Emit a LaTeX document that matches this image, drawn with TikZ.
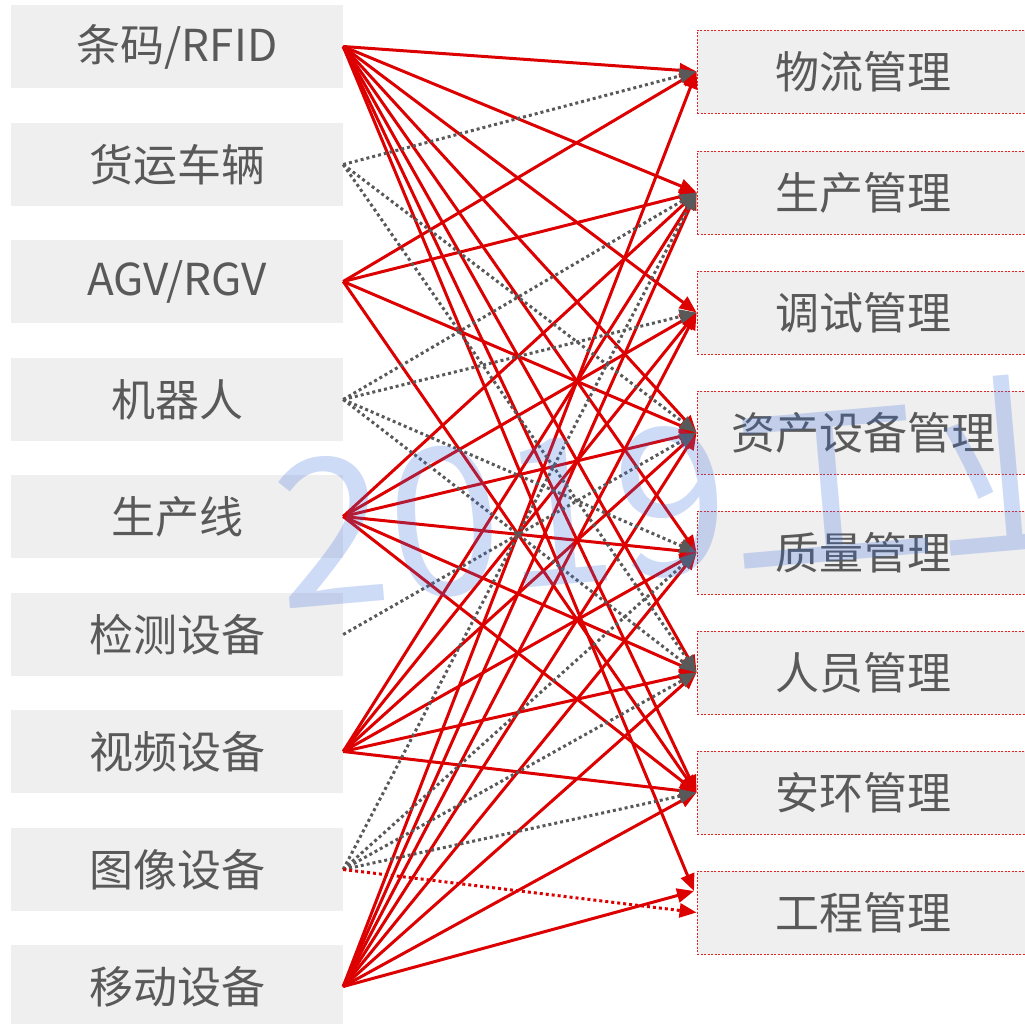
\documentclass[tikz,border=0pt]{standalone}
\usepackage{fontspec}
\setmainfont{Noto Sans CJK SC}
\usetikzlibrary{arrows.meta}
\definecolor{lred}{RGB}{221,0,0}
\definecolor{dgray}{RGB}{89,89,89}
\definecolor{boxg}{RGB}{239,239,239}
\definecolor{wm}{RGB}{60,110,220}
\begin{document}
\begin{tikzpicture}[x=1pt,y=-1pt,
  lbox/.style={fill=boxg,minimum width=332pt,minimum height=83pt,inner sep=0pt,text=dgray,font=\fontsize{44}{50}\selectfont},
  rbox/.style={lbox,draw=lred!85,line width=0.9pt,dash pattern=on 2pt off 1.5pt},
  tip/.style={-{Triangle[length=17pt,width=14pt]}},
  redln/.style={draw=lred,line width=3pt,tip},
  dotln/.style={draw=dgray,line width=3pt,dash pattern=on 3pt off 3pt,tip},
  reddot/.style={draw=lred,line width=3pt,dash pattern=on 3pt off 3pt,tip}]
\useasboundingbox (0,0) rectangle (1025,1024);
\clip (0,0) rectangle (1025,1024);
% left boxes
\node[lbox] (l1) at (177,46.5) {条码/RFID};
\node[lbox] (l2) at (177,164.5) {货运车辆};
\node[lbox] (l3) at (177,281.5) {AGV/RGV};
\node[lbox] (l4) at (177,399.5) {机器人};
\node[lbox] (l5) at (177,516.5) {生产线};
\node[lbox] (l6) at (177,634.5) {检测设备};
\node[lbox] (l7) at (177,751.5) {视频设备};
\node[lbox] (l8) at (177,869.5) {图像设备};
\node[lbox] (l9) at (177,986.5) {移动设备};
% right boxes
\node[rbox] (r1) at (863,71.5) {物流管理};
\node[rbox] (r2) at (863,192.5) {生产管理};
\node[rbox] (r3) at (863,312.5) {调试管理};
\node[rbox] (r4) at (863,432.5) {资产设备管理};
\node[rbox] (r5) at (863,552.5) {质量管理};
\node[rbox] (r6) at (863,672.5) {人员管理};
\node[rbox] (r7) at (863,792.5) {安环管理};
\node[rbox] (r8) at (863,912.5) {工程管理};
\coordinate (r8a) at (694,891);
% red solid connectors
\foreach \s/\t in {l1/r1,l1/r2,l1/r3,l1/r4,l1/r5,l1/r6,l1/r7,
                   l3/r1,l3/r2,l3/r4,l3/r7,
                   l5/r2,l5/r3,l5/r4,l5/r5,l5/r6,l5/r7,
                   l7/r2,l7/r3,l7/r4,l7/r5,l7/r6,l7/r7,
                   l9/r1,l9/r2,l9/r3,l9/r4,l9/r5,l9/r6,l9/r7}
  \draw[redln] (\s.east) -- (\t.west);
\draw[redln] (l1.east) -- (r8a);
\draw[redln] (l9.east) -- (r8a);
% gray dotted connectors
\foreach \s/\t in {l2/r1,l2/r4,l2/r6,
                   l4/r2,l4/r3,l4/r5,l4/r6,
                   l6/r4,
                   l8/r2,l8/r5,l8/r6,l8/r7}
  \draw[dotln] (\s.east) -- (\t.west);
\draw[reddot] (l8.east) -- (r8.west);
% watermark
\node[text=wm,opacity=0.25,rotate=5,font=\fontsize{205}{205}\selectfont] (wmk) at (705,490) {2019工业};
\end{tikzpicture}
\end{document}
